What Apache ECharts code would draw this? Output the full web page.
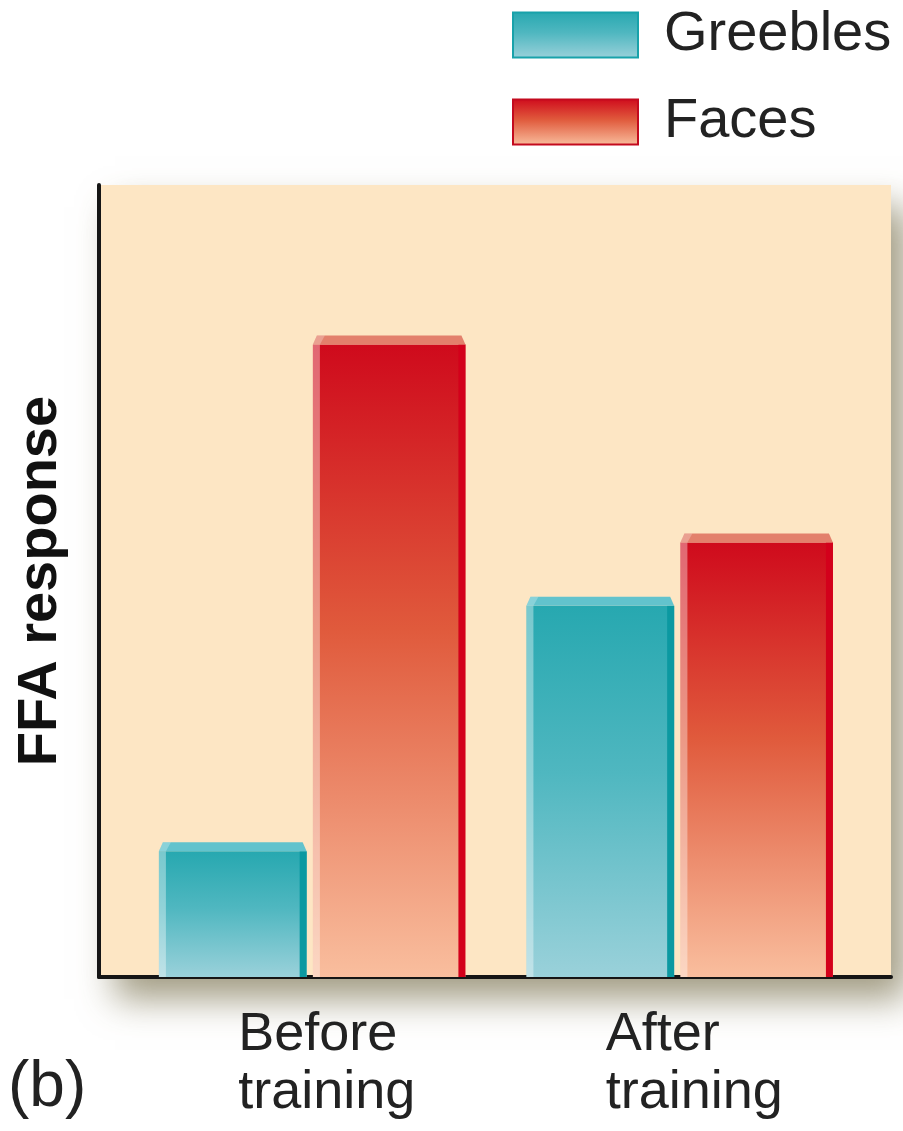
<!DOCTYPE html>
<html>
<head>
<meta charset="utf-8">
<title>FFA response</title>
<script src="https://cdn.jsdelivr.net/npm/echarts@6/dist/echarts.min.js"></script>
<style>
  html, body { margin: 0; padding: 0; background: #ffffff; }
  #chart { width: 903px; height: 1131px; }
</style>
</head>
<body>
<div id="chart"></div>
<script>
// Categories and FFA response values (arbitrary units, 0–100 scale)
const categories = ['Before\ntraining', 'After\ntraining'];
const greebles = [17, 48];
const faces = [81, 56];
const seriesNames = ['Greebles', 'Faces'];

const FONT = '"Liberation Sans", Arial, Helvetica, sans-serif';

// Colour sets for the bevelled bars
const palettes = {
  Greebles: {
    top: '#27a8b0', mid: '#4fb7c0', bottom: '#9ad1da',
    cap: '#62c3cd', right: '#0b99a1', border: '#18a2aa'
  },
  Faces: {
    top: '#cf0a1c', mid: '#e05a3c', bottom: '#f9be9e',
    cap: '#e3806c', right: '#d3001b', border: '#c30a1e'
  }
};

function vGrad(p) {
  return new echarts.graphic.LinearGradient(0, 0, 0, 1, [
    { offset: 0, color: p.top },
    { offset: 0.45, color: p.mid },
    { offset: 1, color: p.bottom }
  ]);
}

// Each bar: body with vertical gradient, light left bevel, dark right bevel, top cap
function makeRenderItem(side, p) {
  return function (params, api) {
    const idx = api.value(0);
    const val = api.value(1);
    const topPt = api.coord([idx, val]);
    const basePt = api.coord([idx, 0]);
    const unit = api.size([1, 0])[0];
    const c = topPt[0];
    let L, R;
    if (side === 'left') { L = c - 0.417 * unit; R = c - 0.015 * unit; }
    else { L = c + 0.002 * unit; R = c + 0.417 * unit; }
    const T = topPt[1];
    const B = basePt[1];
    const cap = 9;
    const bev = 7;
    const w = R - L;
    return {
      type: 'group',
      children: [
        { type: 'rect', shape: { x: L, y: T + cap, width: w, height: B - T - cap },
          style: { fill: vGrad(p) } },
        { type: 'rect', shape: { x: L, y: T + cap, width: bev, height: B - T - cap },
          style: { fill: 'rgba(255,255,255,0.38)' } },
        { type: 'rect', shape: { x: R - bev, y: T + cap, width: bev, height: B - T - cap },
          style: { fill: p.right } },
        { type: 'polygon', shape: { points: [[L, T + cap], [L + 4, T], [R - 4, T], [R, T + cap]] },
          style: { fill: p.cap } },
        { type: 'polygon', shape: { points: [[L, T + cap], [L + 4, T], [L + 12, T], [L + bev, T + cap]] },
          style: { fill: 'rgba(255,255,255,0.25)' } }
      ]
    };
  };
}

const chart = echarts.init(document.getElementById('chart'), null, { renderer: 'canvas' });

const option = {
  backgroundColor: '#ffffff',
  animation: false,
  grid: {
    left: 99, right: 12, top: 185, bottom: 154,
    show: true,
    backgroundColor: '#fde6c4',
    borderWidth: 0,
    shadowColor: 'rgba(105, 95, 55, 0.62)',
    shadowBlur: 34,
    shadowOffsetX: 16,
    shadowOffsetY: 22
  },
  legend: {
    orient: 'vertical',
    left: 512,
    top: 7,
    padding: 0,
    icon: 'rect',
    itemWidth: 125,
    itemHeight: 45,
    itemGap: 31,
    textStyle: { fontFamily: FONT, fontSize: 56, lineHeight: 45, color: '#222', padding: [0, 0, 0, 21] },
    data: seriesNames.map(function (n) {
      return {
        name: n,
        itemStyle: { color: vGrad(palettes[n]), borderColor: palettes[n].border, borderWidth: 2 }
      };
    })
  },
  xAxis: {
    type: 'value',
    min: -0.58,
    max: 1.575,
    axisLine: { show: true, onZero: false, lineStyle: { color: '#151515', width: 4 } },
    axisTick: { show: false },
    splitLine: { show: false },
    axisLabel: {
      customValues: [0, 1],
      formatter: function (v) { return categories[Math.round(v)]; },
      fontFamily: FONT,
      fontSize: 54,
      lineHeight: 58,
      color: '#222',
      align: 'left',
      padding: [0, 0, 0, -74],
      margin: 29
    }
  },
  yAxis: {
    type: 'value',
    min: 0,
    max: 100,
    name: 'FFA response',
    nameLocation: 'middle',
    nameRotate: 90,
    nameGap: 30,
    nameTextStyle: { fontFamily: FONT, fontSize: 56, fontWeight: 'bold', color: '#111' },
    axisLine: { show: true, onZero: false, lineStyle: { color: '#151515', width: 4 } },
    axisTick: { show: false },
    splitLine: { show: false },
    axisLabel: { show: false }
  },
  graphic: [
    { type: 'text', left: 8, top: 1056,
      style: { text: '(b)', font: '64px ' + FONT, fill: '#222' } }
  ],
  series: [
    {
      name: 'Greebles',
      type: 'custom',
      renderItem: makeRenderItem('left', palettes.Greebles),
      itemStyle: { color: palettes.Greebles.top },
      encode: { x: 0, y: 1 },
      data: greebles.map(function (v, i) { return [i, v]; })
    },
    {
      name: 'Faces',
      type: 'custom',
      renderItem: makeRenderItem('right', palettes.Faces),
      itemStyle: { color: palettes.Faces.top },
      encode: { x: 0, y: 1 },
      data: faces.map(function (v, i) { return [i, v]; })
    }
  ]
};

chart.setOption(option);
</script>
</body>
</html>
